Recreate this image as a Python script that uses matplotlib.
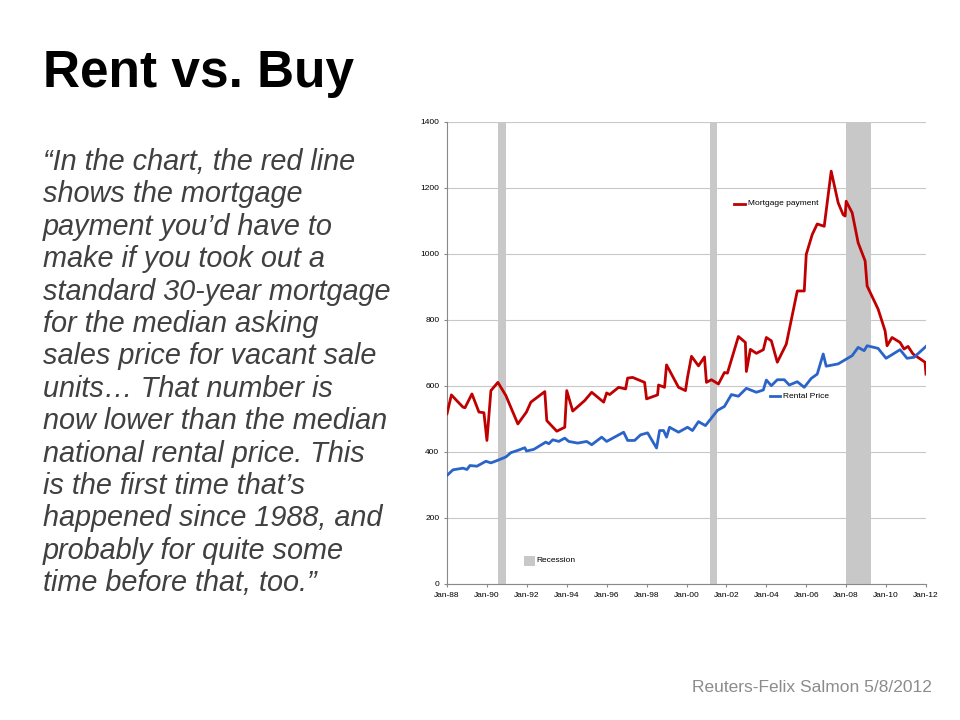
import matplotlib.pyplot as plt
import matplotlib.patches as mpatches

plt.rcParams['font.family'] = ['Liberation Sans', 'DejaVu Sans']

# mortgage payment (year as decimal, value)
mort_x = [1988.0, 1988.22, 1988.56, 1988.8, 1988.9, 1989.25, 1989.6, 1989.85, 1990.0, 1990.2,
          1990.55, 1990.95, 1991.55, 1991.98, 1992.2, 1992.9, 1993.0, 1993.5, 1993.9, 1994.0,
          1994.3, 1994.9, 1995.25, 1995.85, 1996.0, 1996.15, 1996.6, 1996.95, 1997.05, 1997.3,
          1997.9, 1998.0, 1998.55, 1998.6, 1998.9, 1999.0, 1999.6, 1999.95, 2000.05, 2000.25,
          2000.6, 2000.9, 2001.0, 2001.25, 2001.6, 2001.9, 2002.05, 2002.6, 2002.95, 2003.0,
          2003.2, 2003.5, 2003.85, 2004.0, 2004.25, 2004.55, 2005.0, 2005.55, 2005.9, 2006.0,
          2006.3, 2006.55, 2006.9, 2007.25, 2007.6, 2007.85, 2007.95, 2008.0, 2008.3, 2008.6,
          2008.95, 2009.05, 2009.6, 2009.95, 2010.05, 2010.3, 2010.7, 2010.9, 2011.1, 2011.35,
          2011.95, 2012.0]
mort_y = [516, 573, 551, 536, 534, 576, 521, 519, 435, 586,
          611, 571, 485, 521, 551, 583, 495, 463, 475, 586,
          524, 556, 581, 551, 579, 574, 596, 591, 624, 626,
          611, 561, 573, 603, 596, 664, 596, 586, 626, 690,
          661, 688, 611, 619, 606, 641, 639, 750, 732, 644,
          711, 699, 710, 747, 737, 672, 727, 888, 888, 999,
          1059, 1091, 1084, 1251, 1155, 1119, 1115, 1160, 1125, 1034,
          979, 903, 833, 767, 722, 747, 732, 712, 720, 697,
          672, 636]

# rental price
rent_x = [1988.0, 1988.3, 1988.8, 1989.0, 1989.15, 1989.5, 1989.95, 1990.2, 1990.55, 1990.95,
          1991.2, 1991.55, 1991.9, 1991.98, 1992.35, 1992.95, 1993.1, 1993.3, 1993.6, 1993.9,
          1994.1, 1994.55, 1995.0, 1995.25, 1995.75, 1996.0, 1996.85, 1997.05, 1997.4, 1997.7,
          1998.05, 1998.5, 1998.65, 1998.85, 1999.0, 1999.15, 1999.6, 2000.05, 2000.3, 2000.6,
          2000.95, 2001.55, 2001.9, 2002.25, 2002.6, 2003.0, 2003.5, 2003.85, 2004.0, 2004.25,
          2004.55, 2004.9, 2005.15, 2005.55, 2005.9, 2006.25, 2006.55, 2006.85, 2007.0, 2007.6,
          2008.3, 2008.6, 2008.9, 2009.05, 2009.6, 2010.0, 2010.7, 2011.05, 2011.4, 2012.0]
rent_y = [329, 346, 351, 347, 359, 357, 372, 367, 375, 385,
          398, 405, 413, 403, 408, 430, 425, 437, 432, 442,
          432, 427, 432, 422, 445, 432, 460, 435, 435, 452,
          458, 412, 465, 465, 445, 475, 460, 475, 465, 492,
          480, 526, 538, 574, 569, 593, 581, 588, 618, 601,
          619, 619, 603, 613, 596, 623, 636, 697, 660, 667,
          692, 717, 707, 722, 714, 684, 710, 684, 687, 720]

recessions = [(1990.55, 1990.98), (2001.17, 2001.55), (2007.98, 2009.25)]
tick_years = list(range(1988, 2013, 2))
tick_labels = ['Jan-%02d' % (y % 100) for y in tick_years]

fig = plt.figure(figsize=(9.6, 7.2), dpi=100)
fig.patch.set_facecolor('white')

fig.text(43 / 960, 1 - 74 / 720, 'Rent vs. Buy', fontsize=37, fontweight='bold', va='center')

quote = ("\u201cIn the chart, the red line\nshows the mortgage\npayment you\u2019d have to\n"
         "make if you took out a\nstandard 30-year mortgage\nfor the median asking\n"
         "sales price for vacant sale\nunits\u2026 That number is\nnow lower than the median\n"
         "national rental price. This\nis the first time that\u2019s\nhappened since 1988, and\n"
         "probably for quite some\ntime before that, too.\u201d")
fig.text(43 / 960, 1 - 148 / 720, quote, fontsize=20.8, style='italic', color='#404040',
         va='top', linespacing=1.2)

fig.text(932 / 960, 1 - 688 / 720, 'Reuters-Felix Salmon 5/8/2012', fontsize=12.5,
         color='#8c8c8c', ha='right', va='center')

ax = fig.add_axes([447 / 960, 1 - 584 / 720, 479 / 960, 462 / 720])
for a, b in recessions:
    ax.axvspan(a, b, color='#c8c8c8', lw=0, zorder=1)
ax.plot(mort_x, mort_y, color='#c00000', lw=2, zorder=3)
ax.plot(rent_x, rent_y, color='#2a64c8', lw=2, zorder=3)

ax.set_xlim(1988, 2012)
ax.set_ylim(0, 1400)
ax.set_yticks(range(0, 1401, 200))
ax.set_xticks(tick_years)
ax.set_xticklabels(tick_labels)
ax.tick_params(labelsize=6, length=2, color='#888888')
ax.yaxis.grid(True, color='#c8c8c8', lw=0.8, zorder=0)
ax.set_axisbelow(True)
for s in ['top', 'right']:
    ax.spines[s].set_visible(False)
for s in ['left', 'bottom']:
    ax.spines[s].set_color('#888888')
    ax.spines[s].set_linewidth(0.8)

# inline legend labels
ax.plot([2002.4, 2002.95], [1152, 1152], color='#c00000', lw=2)
ax.text(2003.1, 1152, 'Mortgage payment', fontsize=6, va='center')
ax.plot([2004.2, 2004.7], [569, 569], color='#2a64c8', lw=2)
ax.text(2004.85, 569, 'Rental Price', fontsize=6, va='center')
ax.add_patch(mpatches.Rectangle((1991.85, 55), 0.55, 30, color='#c8c8c8', lw=0))
ax.text(1992.5, 70, 'Recession', fontsize=6, va='center')

fig.savefig('out.png', dpi=100)
